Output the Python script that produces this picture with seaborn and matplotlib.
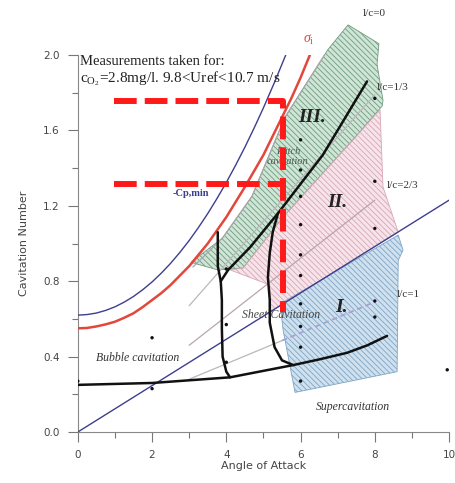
import numpy as np
import matplotlib
matplotlib.use("Agg")
import matplotlib.pyplot as plt
from matplotlib.patches import Polygon
import seaborn as sns

# curves
cpmin_x = [0, 0.25, 0.5, 0.75, 1, 1.25, 1.5, 1.75, 2, 2.25, 2.5, 2.75, 3, 3.25, 3.5, 3.75,
           4, 4.25, 4.5, 4.75, 5, 5.3, 5.6]
cpmin_y = [0.62, 0.623, 0.631, 0.645, 0.664, 0.689, 0.719, 0.755, 0.796, 0.843, 0.895, 0.953,
           1.016, 1.085, 1.159, 1.239, 1.324, 1.415, 1.511, 1.613, 1.72, 1.856, 2.0]
sigma_x = [0, 0.25, 0.5, 0.75, 1, 1.25, 1.5, 1.75, 2, 2.25, 2.5, 2.75, 3, 3.25, 3.5, 3.75,
           4, 4.25, 4.5, 4.75, 5, 5.25, 5.5, 5.75, 6, 6.25]
sigma_y = [0.55, 0.552, 0.56, 0.571, 0.585, 0.606, 0.63, 0.663, 0.70, 0.737, 0.78, 0.83,
           0.88, 0.94, 1.0, 1.07, 1.14, 1.22, 1.30, 1.385, 1.47, 1.57, 1.67, 1.77, 1.88, 2.0]
ray_x = [0, 10]
ray_y = [0, 1.23]

bubble_x = [0, 2, 4.1, 5.8, 6.5, 7.25, 7.8, 8.33]
bubble_y = [0.25, 0.26, 0.29, 0.355, 0.385, 0.42, 0.46, 0.51]
diag_x = [7.79, 6.6, 5.39, 4.64, 4.05, 3.85]
diag_y = [1.86, 1.47, 1.16, 0.98, 0.86, 0.80]
left_x = [3.77, 3.77, 3.85, 3.88, 3.88, 3.9, 4.0, 4.1]
left_y = [1.06, 0.88, 0.80, 0.70, 0.55, 0.40, 0.32, 0.29]
right_x = [5.39, 5.25, 5.17, 5.12, 5.17, 5.17, 5.3, 5.5, 5.8]
right_y = [1.16, 1.06, 0.95, 0.82, 0.70, 0.58, 0.45, 0.38, 0.355]

# l/c lines
lc0_x = [3.1, 3.9, 4.69, 5.58, 6.74, 7.28, 7.68]
lc0_y = [0.875, 1.03, 1.25, 1.67, 2.03, 2.16, 2.27]
lc13_x = [3.0, 8.0]
lc13_y = [0.67, 1.79]
lc23_x = [3.0, 8.0]
lc23_y = [0.46, 1.23]
lc1_x = [3.0, 5.5]
lc1_y = [0.28, 0.485]
lc1_dash_x = [5.5, 8.0]
lc1_dash_y = [0.485, 0.69]

# regions
green_x = [3.05, 3.77, 4.45, 5.53, 7.41, 8.2, 8.22, 8.06, 8.11, 7.28, 6.74, 5.58, 4.69, 3.9]
green_y = [0.90, 0.86, 0.87, 1.14, 1.55, 1.73, 1.76, 1.95, 2.06, 2.16, 2.03, 1.67, 1.25, 1.03]
pink_x = [4.1, 4.45, 5.53, 7.41, 8.14, 8.22, 8.63, 5.2, 5.17]
pink_y = [0.86, 0.87, 1.14, 1.55, 1.71, 1.30, 1.06, 0.64, 0.78]
blue_x = [5.45, 8.63, 8.76, 8.63, 8.6, 5.85, 5.53]
blue_y = [0.68, 1.045, 0.965, 0.91, 0.32, 0.21, 0.54]

# measured points
dot_x = [0, 2, 2, 4, 4, 4, 6, 6, 6, 6, 6, 6, 6, 6, 6, 6, 8, 8, 8, 8, 8, 9.95]
dot_y = [0.27, 0.50, 0.23, 0.865, 0.57, 0.37, 1.55, 1.39, 1.25, 1.10, 0.94, 0.83,
         0.68, 0.56, 0.45, 0.27, 1.77, 1.33, 1.08, 0.695, 0.61, 0.33]

# red dashed frame
frame_x = [0.97, 5.53, 5.53]
frame_y = [1.756, 1.756, 0.635]
frame2_x = [0.97, 5.53]
frame2_y = [1.316, 1.316]

sns.set_style("ticks")
plt.rcParams['font.family'] = ['DejaVu Sans']
plt.rcParams['mathtext.fontset'] = 'custom'
plt.rcParams['mathtext.rm'] = 'Liberation Serif'
plt.rcParams['mathtext.it'] = 'Liberation Serif:italic'
plt.rcParams['hatch.linewidth'] = 0.6

fig = plt.figure(figsize=(4.55, 4.83), dpi=100)
ax = fig.add_axes([0.171, 0.1056, 0.816, 0.7805])

serif = 'Liberation Serif'

# shaded regions
for px, py, fc, hc in [(green_x, green_y, '#cfe5d5', '#6f9b80'),
                       (pink_x, pink_y, '#f7e4ea', '#d7a7b6'),
                       (blue_x, blue_y, '#cfe1ef', '#7ea5c4')]:
    pts = np.column_stack([px, py])
    ax.add_patch(Polygon(pts, closed=True, facecolor=fc, edgecolor='none',
                         zorder=1, clip_on=False))
    ax.add_patch(Polygon(pts, closed=True, fill=False, edgecolor=hc, hatch='\\' * 6,
                         lw=0.6, zorder=1.1, clip_on=False))

# l/c lines
sns.lineplot(x=lc0_x, y=lc0_y, ax=ax, sort=False, estimator=None, color='#a8a8a8', lw=0.9, zorder=2)
sns.lineplot(x=lc13_x, y=lc13_y, ax=ax, sort=False, estimator=None, color='#b8b8b8', lw=0.9, zorder=2)
sns.lineplot(x=lc23_x, y=lc23_y, ax=ax, sort=False, estimator=None, color='#b9a5ad', lw=0.9, zorder=2)
sns.lineplot(x=lc1_x, y=lc1_y, ax=ax, sort=False, estimator=None, color='#b8b8b8', lw=0.9, zorder=2)
sns.lineplot(x=lc1_dash_x, y=lc1_dash_y, ax=ax, sort=False, estimator=None, color='#a7a2d2',
             lw=1.3, ls=(0, (3, 2)), zorder=2)

# inception curves and the reference ray
sns.lineplot(x=cpmin_x, y=cpmin_y, ax=ax, sort=False, estimator=None, color='#3d3f8e', lw=1.0,
             zorder=3, solid_joinstyle='round')
sns.lineplot(x=sigma_x, y=sigma_y, ax=ax, sort=False, estimator=None, color='#e2473c', lw=1.8,
             zorder=3, solid_joinstyle='round')
sns.lineplot(x=ray_x, y=ray_y, ax=ax, sort=False, estimator=None, color='#3d3f8e', lw=1.0, zorder=3)

# regime boundaries
for bx, by in [(bubble_x, bubble_y), (diag_x, diag_y), (left_x, left_y), (right_x, right_y)]:
    sns.lineplot(x=bx, y=by, ax=ax, sort=False, estimator=None, color='#111111', lw=1.8,
                 zorder=4, solid_joinstyle='round', solid_capstyle='round')

sns.scatterplot(x=dot_x, y=dot_y, ax=ax, color='#111111', s=6, edgecolor='none', zorder=5)

# red dashed frame
ax.plot(frame_x, frame_y, color='#ff1a1a', lw=4.3, ls=(0, (3.8, 1.35)), zorder=6,
        solid_joinstyle='miter')
ax.plot(frame2_x, frame2_y, color='#ff1a1a', lw=4.3, ls=(0, (3.8, 1.35)), zorder=6)

# texts
ax.text(0.05, 1.965, 'Measurements taken for:', family=serif, fontsize=10.5, color='#222222',
        va='center', zorder=7)
ax.text(0.05, 1.875, r'c$_{\mathrm{O}_2}$=2.8mg/l. 9.8<Uref<10.7 m/s', family=serif,
        fontsize=11, color='#222222', va='center', zorder=7)
ax.text(6.23, 2.08, r'$\sigma_{\mathrm{i}}$', color='#e2473c', fontsize=10, ha='center', va='center')
ax.text(3.05, 1.265, '-Cp,min', family=serif, fontsize=7.5, fontweight='bold', color='#3d3f8e',
        ha='center', va='center', zorder=5)
ax.text(6.3, 1.67, 'III.', family=serif, fontsize=14, fontweight='bold', style='italic',
        color='#222222', ha='center', va='center', zorder=5)
ax.text(7.0, 1.215, 'II.', family=serif, fontsize=14, fontweight='bold', style='italic',
        color='#222222', ha='center', va='center', zorder=5)
ax.text(7.1, 0.66, 'I.', family=serif, fontsize=14, fontweight='bold', style='italic',
        color='#222222', ha='center', va='center', zorder=5)
ax.text(5.66, 1.46, 'Patch\ncavitation', family=serif, fontsize=7.5, style='italic',
        color='#4a5a50', ha='center', va='center', linespacing=1.1, zorder=5)
ax.text(5.47, 0.62, 'Sheet Cavitation', family=serif, fontsize=8.5, style='italic',
        color='#444444', ha='center', va='center', zorder=5)
ax.text(1.6, 0.39, 'Bubble cavitation', family=serif, fontsize=8.5, style='italic',
        color='#333333', ha='center', va='center', zorder=5)
ax.text(7.4, 0.13, 'Supercavitation', family=serif, fontsize=8.5, style='italic',
        color='#333333', ha='center', va='center', zorder=5)
ax.text(7.68, 2.22, 'l/c=0', family=serif, fontsize=8, color='#333333', va='center')
ax.text(8.06, 1.83, 'l/c=1/3', family=serif, fontsize=8, color='#333333', va='center')
ax.text(8.33, 1.31, 'l/c=2/3', family=serif, fontsize=8, color='#333333', va='center')
ax.text(8.6, 0.73, 'l/c=1', family=serif, fontsize=8, color='#333333', va='center')

# axes
ax.set_xlim(0, 10)
ax.set_ylim(0, 2.0)
ax.set_xticks([0, 2, 4, 6, 8, 10])
ax.set_xticks([1, 3, 5, 7, 9], minor=True)
ax.set_yticks([0.0, 0.4, 0.8, 1.2, 1.6, 2.0])
ax.set_yticks([0.2, 0.6, 1.0, 1.4, 1.8], minor=True)
ax.set_yticklabels(['0.0', '0.4', '0.8', '1.2', '1.6', '2.0'])
ax.tick_params(which='major', length=7, width=0.8, color='#777777', labelsize=7.5,
               labelcolor='#444444', pad=6)
ax.tick_params(which='minor', length=4, width=0.8, color='#777777')
ax.set_xlabel('Angle of Attack', fontsize=8, color='#444444', labelpad=1)
ax.set_ylabel('Cavitation Number', fontsize=8, color='#444444', labelpad=10)
for s in ['left', 'bottom']:
    ax.spines[s].set_color('#888888')
    ax.spines[s].set_linewidth(0.8)
sns.despine(ax=ax)

fig.savefig('out.png', dpi=100)
